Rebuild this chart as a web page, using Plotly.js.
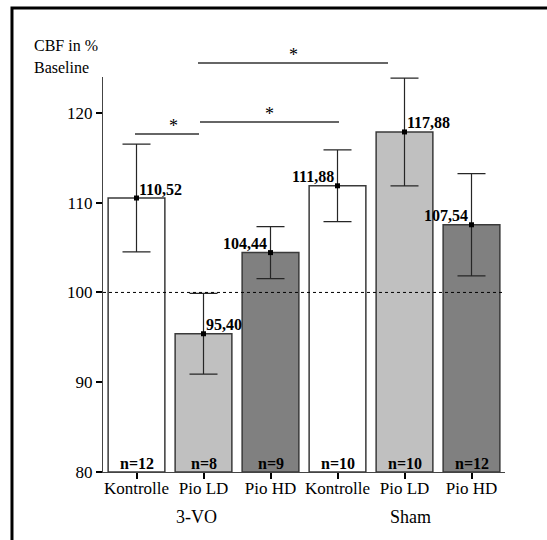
<!DOCTYPE html>
<html>
<head>
<meta charset="utf-8">
<script src="https://cdn.plot.ly/plotly-3.0.1.min.js"></script>
<style>
  html, body { margin: 0; padding: 0; background: #fff; }
  #chart { width: 547px; height: 540px; }
</style>
</head>
<body>
<div id="chart"></div>
<script>
// Cerebral blood flow relative to baseline, per treatment group
const groupNames = ["Kontrolle", "Pio LD", "Pio HD", "Kontrolle", "Pio LD", "Pio HD"];
const cbfMean    = [110.52, 95.40, 104.44, 111.88, 117.88, 107.54];
const cbfError   = [6.0, 4.5, 2.9, 4.0, 6.0, 5.7];
const nAnimals   = [12, 8, 9, 10, 10, 12];
const cohorts    = ["3-VO", "Sham"];

const barColors = ["#ffffff", "#c0c0c0", "#808080", "#ffffff", "#c0c0c0", "#808080"];
// value label placed right (+1) or left (-1) of the mean marker
const labelSide = [1, 1, -1, -1, 1, -1];

const serif = "Times New Roman";
const xIdx = groupNames.map((_, i) => i);

const bars = {
  type: "bar",
  x: xIdx,
  y: cbfMean.map(v => v - 80),
  base: 80,
  marker: { color: barColors, line: { color: "#3a3a3a", width: 1.5 } },
  hoverinfo: "skip",
  showlegend: false
};

const errors = {
  type: "scatter",
  mode: "markers",
  x: xIdx,
  y: cbfMean,
  error_y: { type: "data", array: cbfError, visible: true, color: "#262626", thickness: 1.2, width: 14 },
  marker: { symbol: "square", size: 5, color: "#000" },
  hoverinfo: "skip",
  showlegend: false
};

const annotations = [];

// mean values with comma decimals
cbfMean.forEach((v, i) => {
  annotations.push({
    x: i, y: v, xref: "x", yref: "y",
    text: "<b>" + v.toFixed(2).replace(".", ",") + "</b>",
    showarrow: false,
    xanchor: labelSide[i] > 0 ? "left" : "right",
    yanchor: "middle",
    xshift: labelSide[i] > 0 ? 0 : -2,
    yshift: 9,
    font: { family: serif, size: 16, color: "#000" }
  });
});

// group sizes at the foot of each bar
nAnimals.forEach((n, i) => {
  annotations.push({
    x: i, y: 80, xref: "x", yref: "y",
    text: "<b>n=" + n + "</b>",
    showarrow: false,
    yanchor: "middle", yshift: 9,
    font: { family: serif, size: 16, color: "#000" }
  });
});

// cohort labels under the category ticks
annotations.push({
  x: 1, y: -0.114, xref: "x", yref: "paper", xshift: -7,
  text: cohorts[0], showarrow: false, yanchor: "middle",
  font: { family: serif, size: 18, color: "#000" }
});
annotations.push({
  x: 4, y: -0.114, xref: "x", yref: "paper", xshift: 6,
  text: cohorts[1], showarrow: false, yanchor: "middle",
  font: { family: serif, size: 18, color: "#000" }
});

// y axis caption, two lines at the top left
annotations.push({
  x: -0.1766, y: 1.081, xref: "paper", yref: "paper",
  text: "CBF in %", showarrow: false, xanchor: "left", yanchor: "middle",
  font: { family: serif, size: 16, color: "#000" }
});
annotations.push({
  x: -0.1766, y: 1.0228, xref: "paper", yref: "paper",
  text: "Baseline", showarrow: false, xanchor: "left", yanchor: "middle",
  font: { family: serif, size: 16, color: "#000" }
});

// significance brackets (paper coordinates) with stars
const brackets = [
  { x0: 0.0796, x1: 0.2388, y: 0.8557 },
  { x0: 0.2413, x1: 0.5871, y: 0.8861 },
  { x0: 0.2363, x1: 0.7090, y: 1.0354 }
];
const shapes = [];
brackets.forEach(b => {
  shapes.push({
    type: "line", xref: "paper", yref: "paper",
    x0: b.x0, x1: b.x1, y0: b.y, y1: b.y,
    line: { color: "#333", width: 1.3 }
  });
  annotations.push({
    x: (b.x0 + b.x1) / 2, y: b.y, xref: "paper", yref: "paper",
    text: "*", showarrow: false, yanchor: "bottom", yshift: -4,
    font: { family: serif, size: 18, color: "#000" }
  });
});

// baseline reference at 100 %
shapes.push({
  type: "line", xref: "paper", yref: "y",
  x0: 0, x1: 1, y0: 100, y1: 100,
  line: { color: "#000", width: 1, dash: "dot" }
});

// outer frame (top and left edges visible)
shapes.push({
  type: "rect", xref: "paper", yref: "paper",
  x0: -0.2264, x1: 2, y0: -2, y1: 1.1747,
  line: { color: "#000", width: 3 }
});

const layout = {
  width: 547, height: 540,
  margin: { l: 103, r: 42, t: 77, b: 68 },
  font: { family: serif, size: 16, color: "#000" },
  paper_bgcolor: "#fff", plot_bgcolor: "#fff",
  bargap: 0.153,
  showlegend: false,
  xaxis: {
    range: [-0.5, 5.5],
    tickvals: xIdx, ticktext: groupNames,
    ticks: "outside", ticklen: 6, tickwidth: 2, tickcolor: "#000",
    ticklabelstandoff: -6,
    showline: true, linecolor: "#444", linewidth: 1.2,
    showgrid: false, zeroline: false,
    tickfont: { family: serif, size: 17, color: "#000" }
  },
  yaxis: {
    range: [80, 124],
    tickvals: [80, 90, 100, 110, 120],
    ticks: "outside", ticklen: 6, tickwidth: 2, tickcolor: "#000",
    showline: true, linecolor: "#444", linewidth: 1.2,
    showgrid: false, zeroline: false,
    tickfont: { family: serif, size: 17, color: "#000" }
  },
  annotations: annotations,
  shapes: shapes
};

Plotly.newPlot("chart", [bars, errors], layout, { staticPlot: true, displayModeBar: false });
</script>
</body>
</html>
